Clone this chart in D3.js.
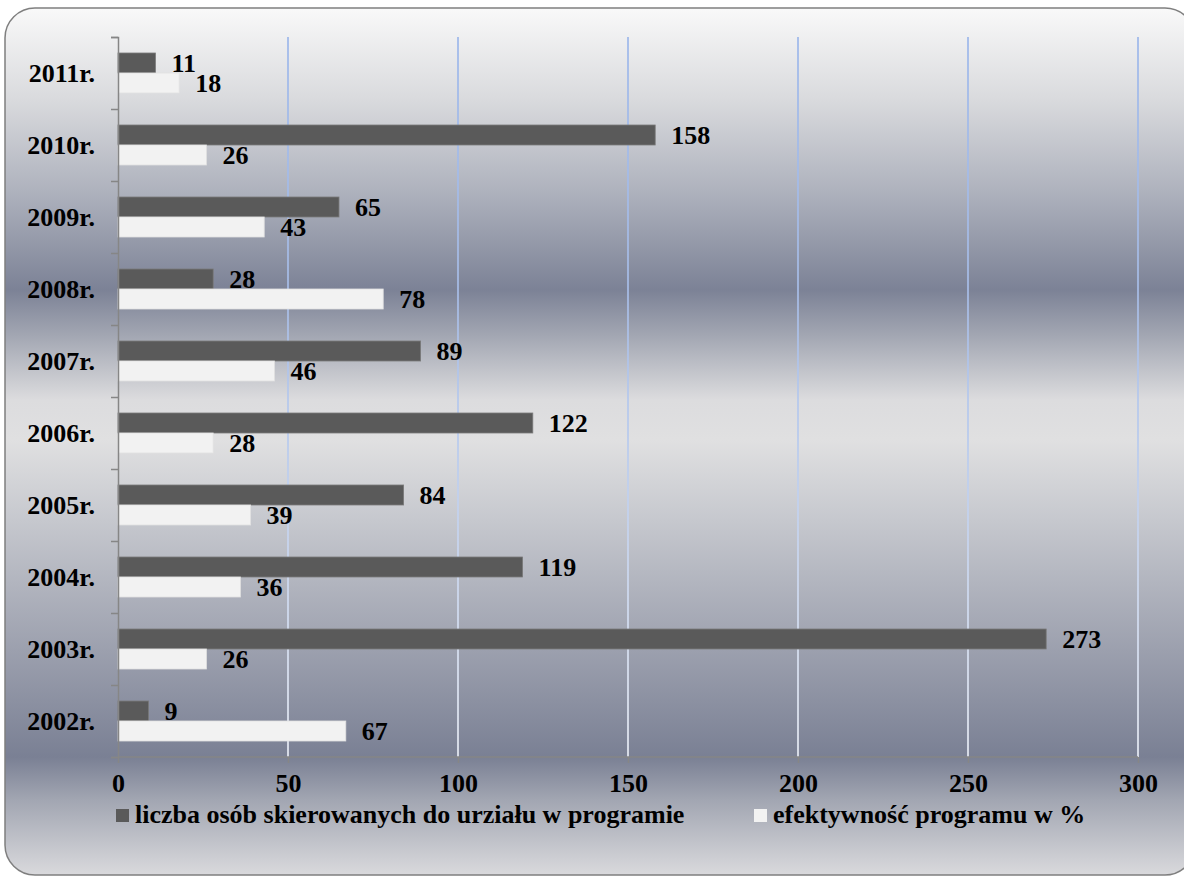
<!DOCTYPE html>
<html>
<head>
<meta charset="utf-8">
<script src="https://cdn.jsdelivr.net/npm/d3@7"></script>
<style>
  html, body { margin: 0; padding: 0; background: #ffffff; }
  svg { display: block; }
  text { font-family: "Liberation Serif", "Times New Roman", Tinos, serif; font-weight: bold; fill: #000; }
</style>
</head>
<body>
<svg id="chart" width="1184" height="877"></svg>
<script>
const categories = ["2011r.", "2010r.", "2009r.", "2008r.", "2007r.", "2006r.", "2005r.", "2004r.", "2003r.", "2002r."];
const referred = [11, 158, 65, 28, 89, 122, 84, 119, 273, 9];
const effectiveness = [18, 26, 43, 78, 46, 28, 39, 36, 26, 67];
const xTicks = [0, 50, 100, 150, 200, 250, 300];
const seriesNames = ["liczba osób skierowanych do urziału w programie", "efektywność programu w %"];
const seriesColors = ["#5a5a5a", "#f2f2f2"];
const seriesStroke = ["#7a7a7a", "#e2e2e2"];
const FS = 26;

const svg = d3.select("#chart");
const defs = svg.append("defs");

// background gradient
const bg = defs.append("linearGradient").attr("id", "bg")
  .attr("gradientUnits", "userSpaceOnUse").attr("x1", 0).attr("y1", 8).attr("x2", 0).attr("y2", 876);
[[8, "#f9f9f9"], [100, "#d9dadd"], [200, "#aaaeba"], [290, "#7c8296"], [335, "#a2a6b2"],
 [400, "#dcdcde"], [440, "#e0e0e1"], [520, "#c6c8ce"], [650, "#9ca0ae"], [757, "#7a8094"],
 [800, "#a2a6b2"], [876, "#dadadd"]].forEach(([yy, c]) => {
  bg.append("stop").attr("offset", (yy - 8) / 868).attr("stop-color", c);
});

const grid = defs.append("linearGradient").attr("id", "gridg")
  .attr("gradientUnits", "userSpaceOnUse").attr("x1", 0).attr("y1", 37).attr("x2", 0).attr("y2", 757);
grid.append("stop").attr("offset", 0).attr("stop-color", "#98b4ea");
grid.append("stop").attr("offset", 0.55).attr("stop-color", "#b4c8ee");
grid.append("stop").attr("offset", 1).attr("stop-color", "#eef2fa");

svg.append("rect").attr("x", 5).attr("y", 8).attr("width", 1190).attr("height", 867)
  .attr("rx", 30).attr("ry", 30)
  .attr("fill", "url(#bg)").attr("stroke", "#7f7f7f").attr("stroke-width", 1.5);

const x = d3.scaleLinear().domain([0, 300]).range([118, 1138]);
const y = d3.scaleBand().domain(categories).range([37, 757]).padding(0);
const sub = d3.scaleBand().domain([0, 1]).range([16, y.bandwidth() - 16]).padding(0);
const yEdges = d3.scaleLinear().domain([0, categories.length]).range([37, 757]);

// gridlines
svg.append("g").selectAll("line").data(xTicks.filter(d => d > 0)).join("line")
  .attr("x1", d => x(d)).attr("x2", d => x(d))
  .attr("y1", 37).attr("y2", 757)
  .attr("stroke", "url(#gridg)").attr("stroke-width", 1.6);

// bars
const rows = categories.map((c, i) => ({ cat: c, vals: [referred[i], effectiveness[i]] }));
const g = svg.append("g").selectAll("g").data(rows).join("g")
  .attr("transform", d => `translate(0,${y(d.cat)})`);

g.selectAll("rect").data(d => d.vals.map((v, k) => ({ v, k }))).join("rect")
  .attr("x", x(0)).attr("y", d => sub(d.k))
  .attr("width", d => x(d.v) - x(0)).attr("height", sub.bandwidth())
  .attr("fill", d => seriesColors[d.k]).attr("stroke", d => seriesStroke[d.k]).attr("stroke-width", 0.8);

g.selectAll("text").data(d => d.vals.map((v, k) => ({ v, k }))).join("text")
  .attr("x", d => x(d.v) + 16).attr("y", d => sub(d.k) + sub.bandwidth() / 2)
  .attr("dy", "0.34em").attr("font-size", FS)
  .text(d => d.v);

// y axis (ticks at category boundaries)
const yAxis = svg.append("g").attr("transform", `translate(${x(0)},0)`)
  .call(d3.axisLeft(yEdges).tickValues(d3.range(categories.length + 1)).tickSize(7).tickFormat(""));
yAxis.selectAll("path,line").attr("stroke", "#868686").attr("stroke-width", 1.5);

// category labels
svg.append("g").selectAll("text").data(categories).join("text")
  .attr("x", 95).attr("y", d => y(d) + y.bandwidth() / 2)
  .attr("dy", "0.34em").attr("text-anchor", "end").attr("font-size", FS)
  .text(d => d);

// x axis
const xAxis = svg.append("g").attr("transform", `translate(0,757)`)
  .call(d3.axisBottom(x).tickValues(xTicks).tickSize(6).tickPadding(11).tickFormat(d3.format("d")));
xAxis.selectAll("path,line").attr("stroke", "#868686").attr("stroke-width", 1.5);
xAxis.select(".domain").attr("d", `M${x(0)},0H${x(300)}`);
xAxis.selectAll("text").attr("font-size", FS).attr("fill", "#000")
  .attr("font-family", "'Liberation Serif', 'Times New Roman', Tinos, serif").attr("font-weight", "bold");

// legend
const legendX = [116, 754];
const lg = svg.append("g").selectAll("g").data(seriesNames).join("g")
  .attr("transform", (d, i) => `translate(${legendX[i]},809)`);
lg.append("rect").attr("width", 13).attr("height", 13)
  .attr("fill", (d, i) => seriesColors[i]);
lg.append("text").attr("x", 19).attr("y", 14).attr("font-size", FS).text(d => d);
</script>
</body>
</html>
